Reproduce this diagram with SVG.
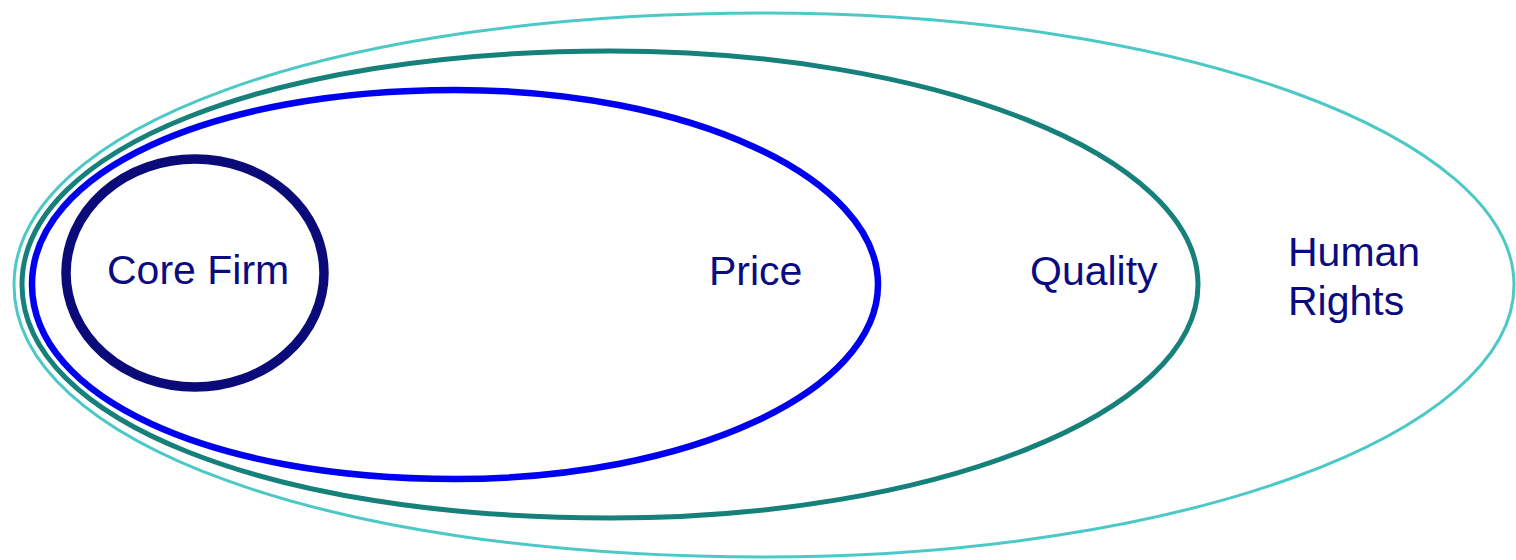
<svg xmlns="http://www.w3.org/2000/svg" width="1516" height="560" viewBox="0 0 1516 560">
<style>
.ring{fill:none}
.lbl{font-family:"Liberation Sans",Arial,sans-serif;font-size:41px;fill:#0b0b80}
</style>
<rect x="0" y="0" width="1516" height="560" fill="#ffffff"/>
<g id="human-rights">
<path class="ring" d="M14,285 C14,127.2 329,13 764,13 C1178,13 1514,135 1514,285 C1514,435 1178,557 764,557 C329,557 14,442.8 14,285Z" stroke="#4cc9c6" stroke-width="3"/>
<text class="lbl" x="1288" y="266">Human</text>
<text class="lbl" x="1288" y="315">Rights</text>
</g>
<g id="quality">
<path class="ring" d="M22,284.5 C22,149.1 269,51 610,51 C934.6,51 1198,155.6 1198,284.5 C1198,413.4 934.6,518 610,518 C269,518 22,419.9 22,284.5Z" stroke="#16807b" stroke-width="5"/>
<text class="lbl" x="1030" y="285">Quality</text>
</g>
<g id="price">
<path class="ring" d="M32,284.5 C32,171.7 209.7,90 455,90 C688.5,90 878,177.1 878,284.5 C878,391.9 688.5,479 455,479 C209.7,479 32,397.3 32,284.5Z" stroke="#0000f0" stroke-width="6.5"/>
<text class="lbl" x="709" y="285">Price</text>
</g>
<g id="core-firm">
<ellipse class="ring" cx="195" cy="273" rx="129" ry="114" stroke="#0a0a78" stroke-width="9.5"/>
<text class="lbl" x="107" y="284">Core Firm</text>
</g>
</svg>
